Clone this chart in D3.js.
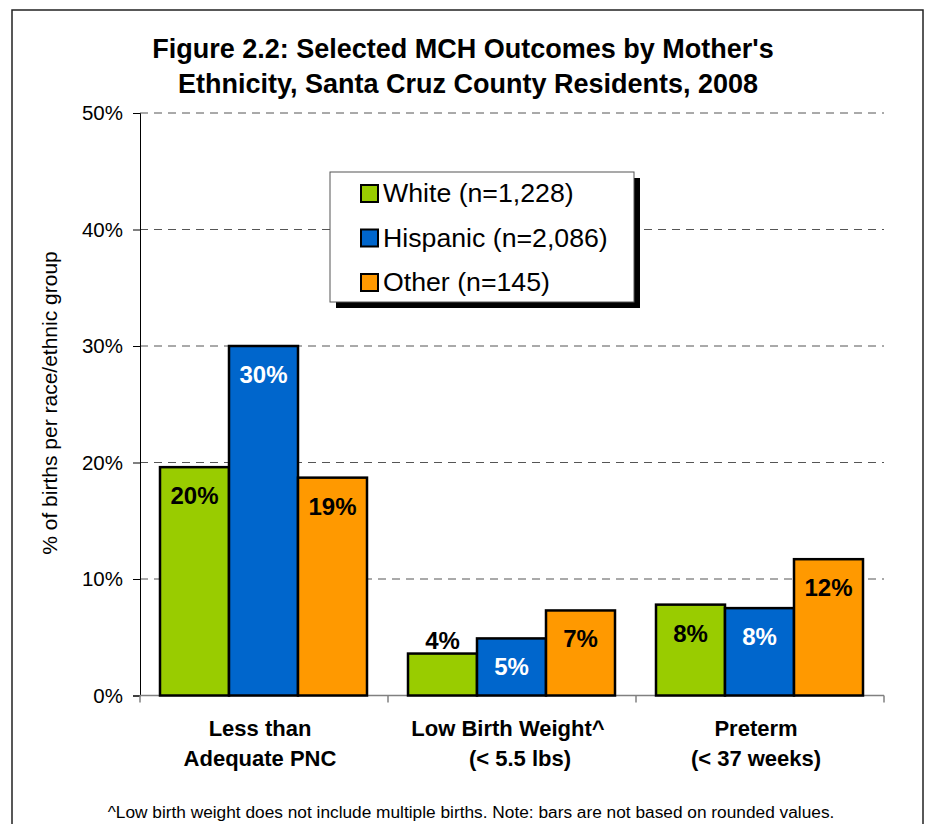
<!DOCTYPE html>
<html>
<head>
<meta charset="utf-8">
<script src="https://cdn.jsdelivr.net/npm/d3@7"></script>
<style>
  body { margin: 0; background: #fff; }
  text { font-family: "Liberation Sans", Arial, sans-serif; }
</style>
</head>
<body>
<svg id="chart" width="929" height="824"></svg>
<script>
// data
const categories = [["Less than", "Adequate PNC"], ["Low Birth Weight^", "(< 5.5 lbs)"], ["Preterm", "(< 37 weeks)"]];
const seriesNames = ["White (n=1,228)", "Hispanic (n=2,086)", "Other (n=145)"];
const white = [19.6, 3.6, 7.8];
const hispanic = [30.0, 4.9, 7.5];
const other = [18.7, 7.3, 11.7];
const labels = [["20%", "4%", "8%"], ["30%", "5%", "8%"], ["19%", "7%", "12%"]];
const yTicks = [0, 10, 20, 30, 40, 50];

const series = [white, hispanic, other];
const colors = ["#99cc00", "#0066cc", "#ff9900"];
const labelColors = ["#000", "#fff", "#000"];

var svg = d3.select("#chart");
var margin = { top: 113, left: 140, bottom: 695.5, right: 884 };

// frame
svg.append("rect")
    .attr("x", 12).attr("y", 10)
    .attr("width", 911).attr("height", 830)
    .attr("fill", "none").attr("stroke", "#222").attr("stroke-width", 1.5);

var x = d3.scaleBand()
    .domain(d3.range(categories.length))
    .range([margin.left, margin.right]);

var xInner = d3.scaleBand()
    .domain(d3.range(series.length))
    .range([20, x.bandwidth() - 21]);

var y = d3.scaleLinear()
    .domain([0, 50])
    .range([margin.bottom, margin.top]);

// gridlines
svg.append("g")
    .selectAll("line")
    .data(yTicks.filter(d => d > 0))
    .enter().append("line")
    .attr("x1", margin.left).attr("x2", margin.right)
    .attr("y1", d => y(d)).attr("y2", d => y(d))
    .attr("stroke", "#555").attr("stroke-width", 1)
    .attr("stroke-dasharray", "8,6");

// y axis
var yAxis = svg.append("g")
    .attr("transform", `translate(${margin.left},0)`)
    .call(d3.axisLeft(y).tickValues(yTicks).tickFormat(d => d + "%").tickSize(7).tickPadding(10));
yAxis.select(".domain").attr("stroke", "#000");
yAxis.selectAll(".tick line").attr("stroke", "#000");
yAxis.selectAll("text").attr("font-size", "20.5px").attr("fill", "#000")
    .style("font-family", "'Liberation Sans', Arial, sans-serif");

// x axis
var xAxisG = svg.append("g").attr("transform", `translate(0,${margin.bottom})`);
xAxisG.append("line")
    .attr("x1", margin.left).attr("x2", margin.right)
    .attr("stroke", "#808080").attr("stroke-width", 1.5);
xAxisG.selectAll("line.tk")
    .data(d3.range(categories.length + 1))
    .enter().append("line")
    .attr("class", "tk")
    .attr("x1", i => margin.left + i * x.step())
    .attr("x2", i => margin.left + i * x.step())
    .attr("y1", 0).attr("y2", 7)
    .attr("stroke", "#808080").attr("stroke-width", 1.5);

// bars
series.forEach(function (vals, s) {
    svg.append("g")
        .selectAll("rect")
        .data(vals)
        .enter().append("rect")
        .attr("x", (d, i) => x(i) + xInner(s))
        .attr("y", d => y(d))
        .attr("width", xInner.bandwidth())
        .attr("height", d => y(0) - y(d))
        .attr("fill", colors[s])
        .attr("stroke", "#000").attr("stroke-width", 2.5);

    svg.append("g")
        .selectAll("text")
        .data(vals)
        .enter().append("text")
        .attr("x", (d, i) => x(i) + xInner(s) + xInner.bandwidth() / 2)
        .attr("y", d => (y(0) - y(d) < 50 ? y(d) - 5 : y(d) + 37))
        .attr("text-anchor", "middle")
        .attr("font-size", "24px")
        .attr("font-weight", "bold")
        .attr("fill", d => (y(0) - y(d) < 50 ? "#000" : labelColors[s]))
        .text((d, i) => labels[s][i]);
});

// category labels
categories.forEach(function (lines, i) {
    var t = svg.append("text")
        .attr("y", 736)
        .attr("text-anchor", "middle")
        .attr("font-size", "22px")
        .attr("font-weight", "bold");
    lines.forEach((ln, k) => t.append("tspan")
        .attr("x", x(i) + x.bandwidth() / 2 - 4 + (i == 1 && k == 1 ? 12 : 0))
        .attr("dy", k == 0 ? 0 : 30)
        .text(ln));
});

// title
svg.append("text")
    .attr("x", 463).attr("y", 58)
    .attr("text-anchor", "middle")
    .attr("font-size", "27px").attr("font-weight", "bold")
    .text("Figure 2.2: Selected MCH Outcomes by Mother's");
svg.append("text")
    .attr("x", 468).attr("y", 93)
    .attr("text-anchor", "middle")
    .attr("font-size", "27px").attr("font-weight", "bold")
    .text("Ethnicity, Santa Cruz County Residents, 2008");

// y axis label
svg.append("text")
    .attr("transform", "translate(57,403) rotate(-90)")
    .attr("text-anchor", "middle")
    .attr("font-size", "21px")
    .text("% of births per race/ethnic group");

// footnote
svg.append("text")
    .attr("x", 471).attr("y", 818)
    .attr("text-anchor", "middle")
    .attr("font-size", "17.3px")
    .text("^Low birth weight does not include multiple births. Note: bars are not based on rounded values.");

// legend
var lg = svg.append("g").attr("transform", "translate(330,172)");
lg.append("rect")
    .attr("x", 6).attr("y", 6).attr("width", 304).attr("height", 130)
    .attr("fill", "#000");
lg.append("rect")
    .attr("x", 0).attr("y", 0).attr("width", 304).attr("height", 130)
    .attr("fill", "#fff").attr("stroke", "#555").attr("stroke-width", 1);
var item = lg.selectAll(".legend")
    .data(seriesNames)
    .enter().append("g")
    .attr("class", "legend")
    .attr("transform", (d, i) => `translate(0,${21 + i * 44.5})`);
item.append("rect")
    .attr("x", 31).attr("y", -8)
    .attr("width", 17).attr("height", 17)
    .attr("fill", (d, i) => colors[i])
    .attr("stroke", "#000").attr("stroke-width", 2);
item.append("text")
    .attr("x", 53).attr("y", 9)
    .attr("font-size", "26.7px")
    .text(d => d);
</script>
</body>
</html>
